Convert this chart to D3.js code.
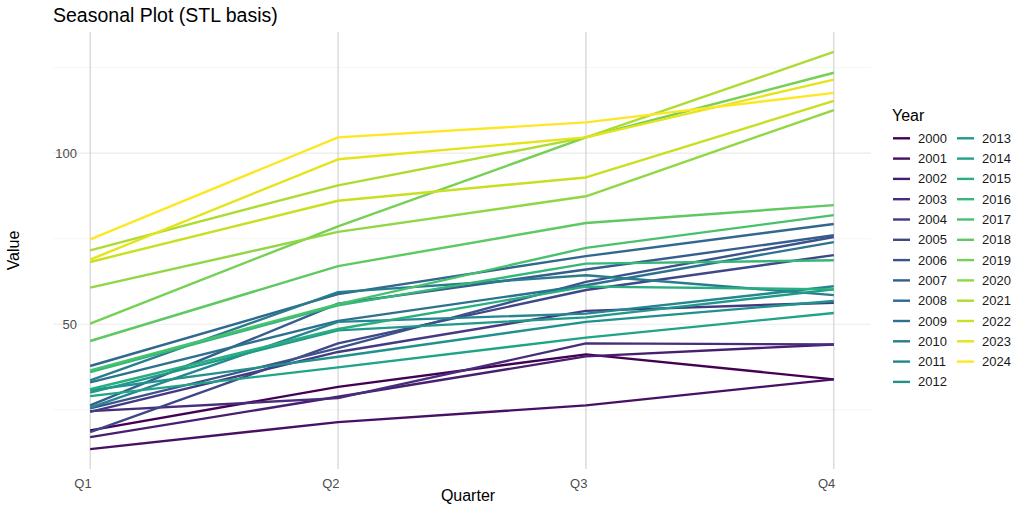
<!DOCTYPE html>
<html>
<head>
<meta charset="utf-8">
<script src="https://cdn.jsdelivr.net/npm/d3@7"></script>
<style>
  body { margin: 0; background: #fff; }
  svg text { font-family: "Liberation Sans", Arial, sans-serif; }
</style>
</head>
<body>
<div class="svgContainer"></div>
<script>
const WIDTH = 1024;
const HEIGHT = 512;
const PANEL = { left: 53, right: 871, top: 32, bottom: 469 };

const quarters = ['Q1', 'Q2', 'Q3', 'Q4'];
const years = d3.range(2000, 2025);
// one array per quarter, one value per year (2000..2024)
const q1 = [19.0, 13.5, 17.0, 24.6, 24.4, 18.5, 25.4, 26.3, 37.8, 33.0, 33.6, 25.6, 30.7, 30.0, 29.0, 31.0, 36.0, 36.5, 45.1, 50.2, 60.7, 71.6, 68.2, 68.9, 74.8];
const q2 = [31.7, 21.4, 28.8, 28.4, 41.9, 44.4, 43.0, 56.0, 58.8, 51.0, 59.4, 50.7, 40.5, 48.2, 37.4, 48.6, 55.5, 55.9, 67.0, 78.6, 77.0, 90.6, 86.1, 98.2, 104.6];
const q3 = [41.2, 26.3, 40.6, 44.4, 53.9, 60.0, 62.4, 66.0, 69.9, 61.4, 64.3, 53.1, 50.7, 52.0, 46.1, 61.0, 67.7, 72.3, 79.6, 104.6, 87.4, 104.6, 92.9, 104.6, 109.0];
const q4 = [33.9, 33.9, 44.1, 44.1, 56.3, 70.2, 75.5, 76.0, 79.3, 74.0, 58.5, 61.1, 56.8, 60.2, 53.3, 60.2, 68.7, 81.9, 84.8, 123.5, 112.6, 129.6, 115.3, 121.5, 117.6];

const seriesData = years.map((yr, i) => ({
    year: yr,
    values: [q1[i], q2[i], q3[i], q4[i]].map((v, j) => ({ q: j + 1, v: v }))
}));

const svg = d3.select('.svgContainer')
.append('svg')
.attr('width', WIDTH)
.attr('height', HEIGHT);

const allVals = q1.concat(q2, q3, q4);
const yMin = d3.min(allVals), yMax = d3.max(allVals);
const yPad = (yMax - yMin) * 0.05;

const xScale = d3.scaleLinear()
.domain([1 - 0.15, 4 + 0.15])
.range([PANEL.left, PANEL.right]);

const yScale = d3.scaleLinear()
.domain([yMin - yPad, yMax + yPad])
.range([PANEL.bottom, PANEL.top]);

const color = d3.scaleSequential(d3.interpolateViridis)
.domain([2000, 2024]);

// grid
const grid = svg.append('g');
grid.selectAll('.minor')
.data([25, 75, 125])
.enter()
.append('line')
.attr('x1', PANEL.left).attr('x2', PANEL.right)
.attr('y1', d => yScale(d)).attr('y2', d => yScale(d))
.attr('stroke', '#f0f0f0')
.attr('stroke-width', 0.6);
grid.selectAll('.major')
.data([50, 100])
.enter()
.append('line')
.attr('x1', PANEL.left).attr('x2', PANEL.right)
.attr('y1', d => yScale(d)).attr('y2', d => yScale(d))
.attr('stroke', '#ebebeb')
.attr('stroke-width', 1.1);
grid.selectAll('.vert')
.data([1, 2, 3, 4])
.enter()
.append('line')
.attr('x1', d => xScale(d)).attr('x2', d => xScale(d))
.attr('y1', PANEL.top).attr('y2', PANEL.bottom)
.attr('stroke', '#cfcfcf')
.attr('stroke-width', 1.1);

// lines
const line = d3.line()
.x(d => xScale(d.q))
.y(d => yScale(d.v));

svg.append('g')
.selectAll('path')
.data(seriesData)
.enter()
.append('path')
.attr('d', d => line(d.values))
.attr('fill', 'none')
.attr('stroke', d => color(d.year))
.attr('stroke-width', 2.4)
.attr('stroke-linejoin', 'round');

// axes (labels only, no domain lines); x labels sit left of their gridline
const xAxis = d3.axisBottom(xScale)
.tickValues([1, 2, 3, 4])
.tickFormat((d, i) => quarters[i])
.tickSize(0)
.tickPadding(10);
svg.append('g')
.attr('transform', `translate(0, ${PANEL.bottom})`)
.call(xAxis)
.call(g => g.select('.domain').remove())
.selectAll('text')
.attr('text-anchor', 'end')
.attr('dx', 1)
.attr('fill', '#4d4d4d')
.style('font-size', '13px');

const yAxis = d3.axisLeft(yScale)
.tickValues([50, 100])
.tickSize(0)
.tickPadding(5);
svg.append('g')
.attr('transform', `translate(${PANEL.left + 29}, 0)`)
.call(yAxis)
.call(g => g.select('.domain').remove())
.selectAll('text')
.attr('fill', '#4d4d4d')
.style('font-size', '13px');

// titles
svg.append('text')
.attr('x', PANEL.left)
.attr('y', 22)
.style('font-size', '19.5px')
.attr('fill', '#000')
.text('Seasonal Plot (STL basis)');

svg.append('text')
.attr('text-anchor', 'middle')
.attr('x', 468)
.attr('y', 501)
.style('font-size', '16px')
.text('Quarter');

svg.append('text')
.attr('text-anchor', 'middle')
.attr('transform', `translate(19, ${(PANEL.top + PANEL.bottom) / 2}) rotate(-90)`)
.style('font-size', '16px')
.text('Value');

// legend
const legend = svg.append('g').attr('id', 'legend');
legend.append('text')
.attr('x', 892)
.attr('y', 121)
.style('font-size', '16px')
.text('Year');

const ROWS = 13;
const items = legend.selectAll('g.item')
.data(years)
.enter()
.append('g')
.attr('class', 'item')
.attr('transform', (d, i) => `translate(${893 + Math.floor(i / ROWS) * 64}, ${138.3 + (i % ROWS) * 20.3})`);
items.append('line')
.attr('x1', 0).attr('x2', 17)
.attr('stroke', d => color(d))
.attr('stroke-width', 2.4);
items.append('text')
.attr('x', 25)
.attr('dy', '0.35em')
.style('font-size', '13px')
.attr('fill', '#1a1a1a')
.text(d => d);
</script>
</body>
</html>
